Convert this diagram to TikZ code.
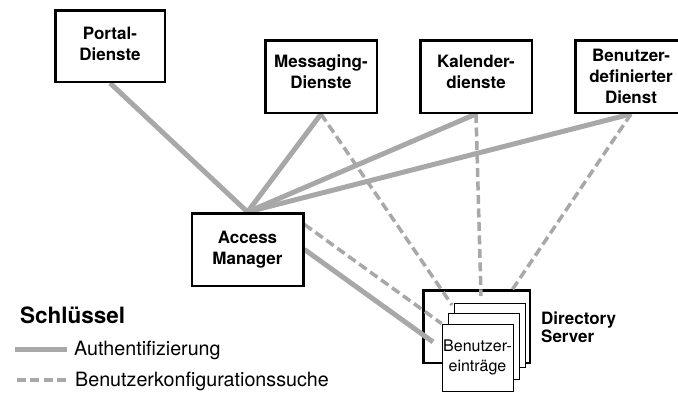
\documentclass[tikz,border=0pt]{standalone}
\usepackage{fontspec}
\setmainfont{TeX Gyre Heros}
\pgfdeclarelayer{bottomlayer}
\pgfdeclarelayer{linelayer}
\pgfsetlayers{bottomlayer,linelayer,main}
\definecolor{linegray}{RGB}{168,168,168}
\tikzset{
  svcbox/.style={draw=black, line width=2.5pt, fill=white, inner sep=0pt,
    minimum width=111.5pt, minimum height=72.5pt, align=center,
    font=\fontsize{17}{21}\selectfont\bfseries},
  pagebox/.style={draw=black, line width=0.9pt, fill=white, inner sep=0pt,
    minimum width=71pt, align=center, font=\fontsize{16}{19.5}\selectfont},
  authline/.style={draw=linegray, line width=5pt},
  cfgline/.style={draw=linegray, line width=3.5pt, dash pattern=on 9pt off 4.5pt},
  legendtext/.style={anchor=base west, inner sep=0pt, font=\fontsize{19.7}{22}\selectfont},
}
\begin{document}
\begin{tikzpicture}[x=1pt,y=-1pt]
\useasboundingbox (0,0) rectangle (678,392);
\clip (0,0) rectangle (678,392);

% service boxes
\node[svcbox, minimum width=109.5pt, minimum height=71.5pt, text depth=5pt] (portal) at (110,46) {Portal-\\Dienste};
\node[svcbox, text depth=9pt] (msg) at (321,76.5) {Messaging-\\Dienste};
\node[svcbox, text depth=9pt] (kal) at (476,76.5) {Kalender-\\dienste};
\node[svcbox] (bdd) at (631,76.5) {Benutzer-\\definierter\\Dienst};
\node[svcbox] (am) at (247.5,249.5) {Access\\Manager};

% directory server
\begin{pgfonlayer}{bottomlayer}
\node[draw=black, line width=2.5pt, minimum width=106.5pt, minimum height=72.5pt, inner sep=0pt] (ds) at (476.5,326.5) {};
\end{pgfonlayer}
\node[pagebox, minimum height=64pt] (back) at (490,335) {};
\node[pagebox, minimum height=66pt] (middle) at (483.5,346) {};
\node[pagebox, minimum height=67pt] (front) at (477.5,357.5) {Benutzer-\\einträge};
\node[anchor=west, inner sep=0pt, align=left, font=\fontsize{17}{18}\selectfont\bfseries] (dslabel) at (541,327.5) {Directory\\Server};

% end points of connectors at the directory server
\coordinate (dsA) at (433,342);
\coordinate (dsM) at (452,305);
\coordinate (dsK) at (481,296);
\coordinate (dsB) at (512,290);
\coordinate (amcfg) at ([yshift=25pt]am.east);

\begin{pgfonlayer}{linelayer}
\draw[authline] (portal.south) -- (am.north);
\draw[authline] (msg.south) -- (am.north);
\draw[authline] (kal.south) -- (am.north);
\draw[authline] (bdd.south) -- (am.north);
\draw[authline] (am.east) -- (dsA);
\draw[cfgline] (amcfg) -- (front.north west);
\draw[cfgline] (msg.south) -- (dsM);
\draw[cfgline] (kal.south) -- (dsK);
\draw[cfgline] (bdd.south) -- (dsB);
\end{pgfonlayer}

% legend
\node[anchor=base west, inner sep=0pt, font=\fontsize{22.5}{24}\selectfont\bfseries] (key) at (20,323) {Schlüssel};
\coordinate (la1) at (15,349.5);
\coordinate (la2) at (67,349.5);
\coordinate (lb1) at (17,380);
\coordinate (lb2) at (66,380);
\draw[authline] (la1) -- (la2);
\draw[cfgline, line width=4pt, dash pattern=on 9pt off 4.3pt] (lb1) -- (lb2);
\node[legendtext] (authtext) at (74,355) {Authentifizierung};
\node[legendtext] (cfgtext) at (75,386) {Benutzerkonfigurationssuche};
\end{tikzpicture}
\end{document}
